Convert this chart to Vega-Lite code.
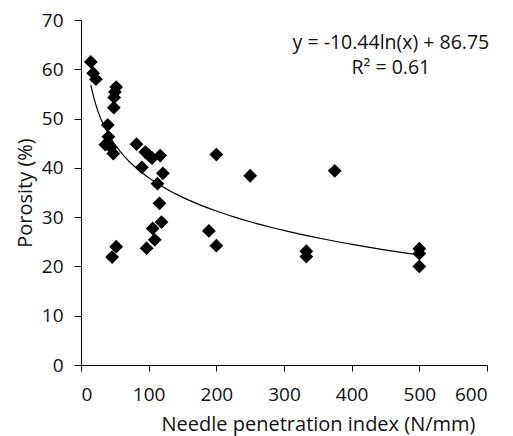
{
  "$schema": "https://vega.github.io/schema/vega-lite/v6.json",
  "width": 406,
  "height": 345,
  "autosize": "none",
  "padding": {"left": 81, "top": 20, "right": 26, "bottom": 71},
  "background": "white",
  "config": {"view": {"stroke": null}, "font": "Open Sans"},
  "datasets": {
    "pts": [
      {"npi": 14.5, "por": 61.5}, {"npi": 18, "por": 59.2}, {"npi": 22, "por": 58.0},
      {"npi": 52, "por": 56.4}, {"npi": 50, "por": 55.4}, {"npi": 49, "por": 54.3}, {"npi": 48.5, "por": 52.2},
      {"npi": 39.5, "por": 48.7}, {"npi": 40.5, "por": 46.3}, {"npi": 36, "por": 44.7}, {"npi": 44, "por": 44.2},
      {"npi": 47.7, "por": 42.9}, {"npi": 82, "por": 44.8}, {"npi": 95, "por": 43.2}, {"npi": 100, "por": 42.6},
      {"npi": 105, "por": 42.0}, {"npi": 117, "por": 42.5}, {"npi": 90, "por": 40.1}, {"npi": 121, "por": 38.9},
      {"npi": 113, "por": 36.8}, {"npi": 116, "por": 32.8}, {"npi": 119, "por": 29.0}, {"npi": 106, "por": 27.7},
      {"npi": 109, "por": 25.4}, {"npi": 97, "por": 23.7}, {"npi": 52, "por": 24.0}, {"npi": 46, "por": 21.9},
      {"npi": 200, "por": 42.7}, {"npi": 250, "por": 38.4}, {"npi": 375, "por": 39.4}, {"npi": 189, "por": 27.2},
      {"npi": 200, "por": 24.2}, {"npi": 333, "por": 23.1}, {"npi": 333, "por": 22.0},
      {"npi": 500, "por": 23.6}, {"npi": 500, "por": 22.6}, {"npi": 500, "por": 20.0}
    ],
    "labels": [
      {"npi": 458, "por": 64.05, "t": "y = -10.44ln(x) + 86.75"},
      {"npi": 458, "por": 58.95, "t": "R² = 0.61"}
    ]
  },
  "layer": [
    {
      "data": {"name": "pts"},
      "transform": [{"regression": "por", "on": "npi", "method": "log"}],
      "mark": {"type": "line", "color": "black", "strokeWidth": 1.2},
      "encoding": {
        "x": {"field": "npi", "type": "quantitative"},
        "y": {"field": "por", "type": "quantitative"}
      }
    },
    {
      "data": {"name": "pts"},
      "mark": {"type": "point", "shape": "diamond", "filled": true, "color": "black", "opacity": 1, "size": 190},
      "encoding": {
        "x": {
          "field": "npi", "type": "quantitative",
          "scale": {"domain": [0, 600], "nice": false, "zero": true},
          "axis": {
            "title": "Needle penetration index (N/mm)", "values": [0, 100, 200, 300, 400, 500, 600],
            "grid": false, "domainColor": "black", "tickColor": "black", "tickSize": 6,
            "labelFontSize": 19, "labelColor": "#111", "labelPadding": 14, "labelFont": "Open Sans",
            "titleFontSize": 20, "titleFontWeight": "normal", "titleColor": "#111", "titlePadding": 10,
            "titleX": 237, "titleFont": "Open Sans"
          }
        },
        "y": {
          "field": "por", "type": "quantitative",
          "scale": {"domain": [0, 70], "nice": false},
          "axis": {
            "title": "Porosity (%)", "values": [0, 10, 20, 30, 40, 50, 60, 70],
            "grid": false, "domainColor": "black", "tickColor": "black", "tickSize": 7,
            "labelFontSize": 19, "labelColor": "#111", "labelPadding": 11, "labelFont": "Open Sans",
            "titleFontSize": 20, "titleFontWeight": "normal", "titleColor": "#111", "titlePadding": 6,
            "titleFont": "Open Sans"
          }
        }
      }
    },
    {
      "data": {"name": "labels"},
      "mark": {"type": "text", "fontSize": 19.5, "font": "Open Sans", "color": "#111", "align": "center", "baseline": "alphabetic"},
      "encoding": {
        "x": {"field": "npi", "type": "quantitative"},
        "y": {"field": "por", "type": "quantitative"},
        "text": {"field": "t"}
      }
    }
  ]
}
